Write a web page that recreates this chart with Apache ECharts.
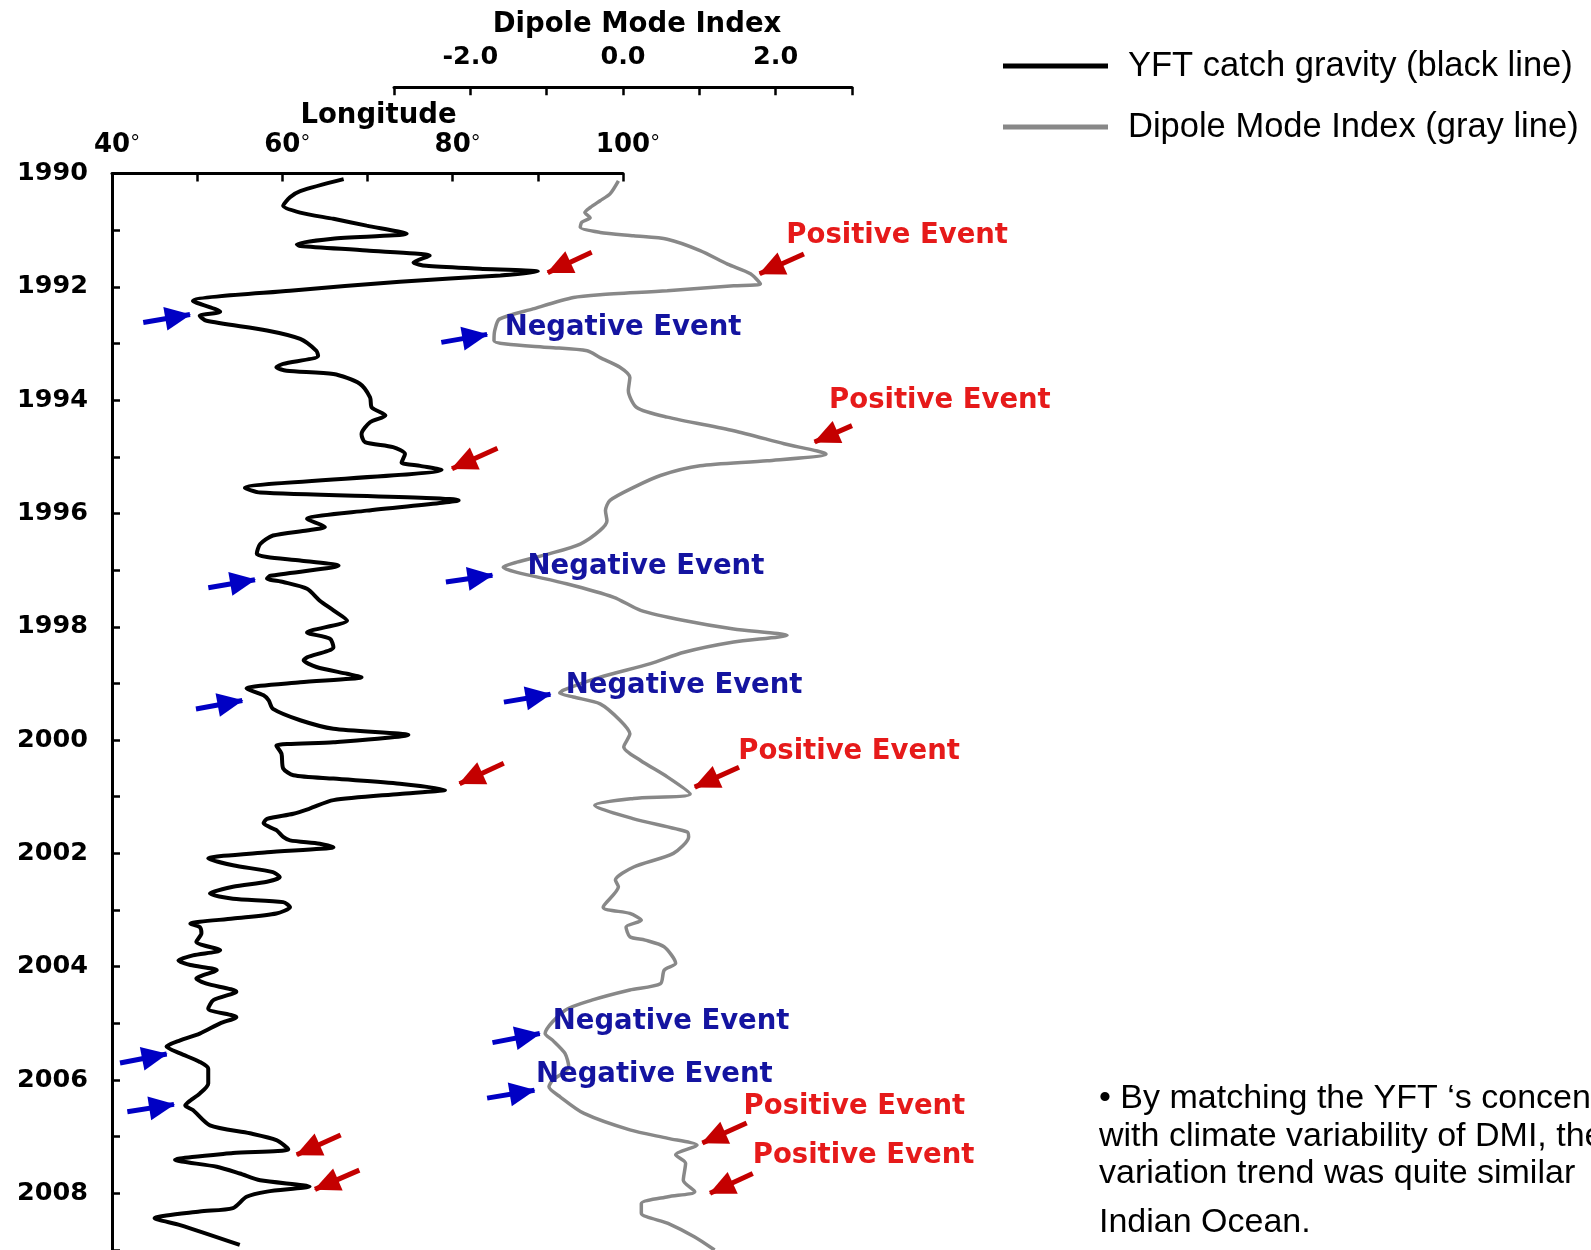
<!DOCTYPE html>
<html>
<head>
<meta charset="utf-8">
<script src="https://cdn.jsdelivr.net/npm/echarts@6/dist/echarts.min.js"></script>
<style>
html,body{margin:0;padding:0;background:#fff;}
#chart{width:1591px;height:1250px;}
</style>
</head>
<body>
<div id="chart"></div>
<script>
// ---------- data ----------
// YFT catch gravity (longitude of catch centre) against time
const yftYear = [1990.10,1990.31,1990.42,1990.57,1990.69,1990.80,1990.92,1991.06,1991.15,1991.25,
1991.28,1991.36,1991.45,1991.57,1991.63,1991.68,1991.73,1991.80,1991.91,1992.07,
1992.25,1992.44,1992.51,1992.60,1992.77,1992.92,1993.13,1993.22,1993.36,1993.42,
1993.48,1993.54,1993.71,1993.95,1994.13,1994.27,1994.39,1994.60,1994.74,1994.83,
1994.95,1995.10,1995.16,1995.23,1995.55,1995.63,1995.77,1995.95,1996.10,1996.24,
1996.30,1996.39,1996.54,1996.71,1996.77,1996.83,1996.92,1997.10,1997.15,1997.21,
1997.33,1997.54,1997.71,1997.89,1998.10,1998.21,1998.36,1998.54,1998.59,1998.71,
1998.83,1998.89,1998.98,1999.09,1999.21,1999.30,1999.45,1999.65,1999.80,1999.91,
2000.04,2000.10,2000.24,2000.50,2000.62,2000.68,2000.77,2000.88,2000.95,2001.06,
2001.21,2001.30,2001.39,2001.47,2001.59,2001.71,2001.77,2001.83,2001.89,2001.98,
2002.09,2002.21,2002.33,2002.42,2002.50,2002.59,2002.71,2002.80,2002.86,2002.95,
2003.06,2003.15,2003.24,2003.30,2003.41,2003.56,2003.71,2003.80,2003.89,2003.97,
2004.06,2004.21,2004.30,2004.44,2004.59,2004.74,2004.89,2005.00,2005.18,2005.30,
2005.41,2005.53,2005.68,2005.80,2006.06,2006.24,2006.36,2006.45,2006.53,2006.80,
2006.94,2007.06,2007.22,2007.29,2007.41,2007.53,2007.65,2007.77,2007.88,2007.97,
2008.06,2008.26,2008.32,2008.44,2008.56,2008.91];
const yftLon = [67.2,62.1,60.9,60.1,62.1,66.0,69.9,74.6,65.9,61.7,
62.1,69.9,77.3,75.4,76.9,83.2,90.0,85.6,73.8,60.9,
49.5,52.7,50.3,51.1,58.2,62.1,64.0,64.2,60.1,59.3,
60.5,66.0,69.1,70.3,70.5,72.1,70.3,69.3,69.7,73.0,
74.4,74.0,76.2,78.7,55.6,57.4,80.7,69.9,62.9,65.0,
62.9,58.9,57.4,57.0,58.2,62.1,66.6,58.6,58.2,60.1,
62.9,64.4,66.0,67.6,62.9,65.6,66.0,62.9,62.5,64.0,
67.6,69.3,62.1,55.8,57.8,58.4,58.9,62.1,66.0,74.8,
66.0,59.3,59.9,60.1,61.3,66.0,73.8,79.1,73.8,66.0,
63.2,61.3,58.2,57.8,59.3,60.1,60.9,64.4,66.0,58.2,
51.3,54.2,58.9,59.7,58.2,54.2,51.5,54.2,60.1,60.9,
59.3,54.2,49.2,50.3,50.5,49.9,52.7,49.5,47.8,49.2,
52.3,49.9,51.1,54.6,51.9,51.3,54.6,52.7,50.3,48.0,
46.4,48.0,50.3,51.3,51.3,50.3,49.2,48.6,49.5,51.5,
56.2,59.3,60.7,54.2,47.4,52.3,55.0,57.4,63.2,58.2,
55.8,54.2,50.3,45.0,48.0,55.0];

// Dipole Mode Index against time
const dmiYear = [1990.13,1990.36,1990.48,1990.60,1990.69,1990.78,1990.86,1990.95,1991.04,1991.10,
1991.16,1991.36,1991.60,1991.77,1991.95,1991.98,1992.07,1992.14,1992.19,1992.39,
1992.57,1992.77,1992.95,1993.01,1993.07,1993.13,1993.25,1993.42,1993.60,1993.83,
1994.13,1994.30,1994.54,1994.77,1994.95,1995.07,1995.16,1995.33,1995.54,1995.77,
1995.95,1996.13,1996.30,1996.54,1996.71,1996.86,1996.95,1997.04,1997.24,1997.48,
1997.71,1997.89,1998.04,1998.15,1998.27,1998.45,1998.65,1998.89,1999.12,1999.17,
1999.24,1999.36,1999.65,1999.89,2000.12,2000.36,2000.65,2000.95,2001.03,2001.15,
2001.39,2001.62,2001.71,2002.00,2002.24,2002.47,2002.59,2002.95,2003.06,2003.18,
2003.30,2003.47,2003.53,2003.65,2003.94,2004.06,2004.30,2004.41,2004.59,2004.77,
2005.18,2005.30,2005.53,2005.77,2006.00,2006.12,2006.30,2006.59,2006.88,2007.03,
2007.15,2007.32,2007.47,2007.77,2007.97,2008.06,2008.18,2008.35,2008.53,2008.77,
2009.00];
const dmiValue = [-0.06,-0.17,-0.30,-0.43,-0.50,-0.43,-0.54,-0.56,-0.30,0.14,
0.58,1.01,1.37,1.67,1.80,1.45,0.58,-0.30,-0.65,-1.18,
-1.62,-1.68,-1.69,-1.53,-0.96,-0.47,-0.30,-0.04,0.09,0.07,
0.18,0.58,1.45,2.11,2.66,1.89,1.01,0.49,0.14,-0.17,
-0.23,-0.21,-0.30,-0.56,-0.96,-1.39,-1.57,-1.39,-0.74,-0.12,
0.23,0.80,1.45,2.15,1.45,0.80,0.36,-0.30,-0.78,-0.83,
-0.65,-0.30,-0.04,0.09,0.01,0.23,0.58,0.88,0.14,-0.37,
0.14,0.84,0.86,0.66,0.14,-0.10,-0.06,-0.26,0.09,0.24,
0.04,0.09,0.29,0.54,0.69,0.54,0.49,0.09,-0.41,-0.76,
-1.02,-0.92,-0.76,-0.71,-0.92,-0.97,-0.82,-0.51,0.09,0.59,
0.97,0.69,0.82,0.79,0.94,0.59,0.24,0.24,0.59,0.94,
1.20];

// axis ticks / labels
const yearTicks = [1990, 2009, 1];      // min, max, step
const lonTicks = [40, 100, 10];
const dmiTicks = [-3, 3, 1];
const dmiLabelled = [-2, 0, 2];

// event arrows: [fromX, fromYear, toX, toYear, kind]  (x in axis units)
const yftArrows = [
  [96.32,1991.39,91.16,1991.75,'pos'],
  [43.67,1992.63,49.16,1992.49,'neg'],
  [85.26,1994.85,79.92,1995.21,'pos'],
  [51.31,1997.31,56.79,1997.17,'neg'],
  [49.86,1999.45,55.30,1999.30,'neg'],
  [86.00,2000.41,80.81,2000.77,'pos'],
  [40.94,2005.70,46.42,2005.54,'neg'],
  [41.80,2006.56,47.28,2006.43,'neg'],
  [66.85,2006.97,61.69,2007.32,'pos'],
  [69.04,2007.59,63.83,2007.93,'pos']
];
const dmiArrows = [
  [2.37,1991.42,1.79,1991.77,'pos'],
  [-2.38,1992.98,-1.78,1992.84,'neg'],
  [3.00,1994.45,2.51,1994.74,'pos'],
  [-2.32,1997.21,-1.71,1997.09,'neg'],
  [-1.56,1999.33,-0.95,1999.19,'neg'],
  [1.52,2000.48,0.94,2000.83,'pos'],
  [-1.71,2005.34,-1.09,2005.18,'neg'],
  [-1.78,2006.32,-1.16,2006.18,'neg'],
  [1.62,2006.76,1.04,2007.11,'pos'],
  [1.70,2007.65,1.14,2008.00,'pos']
];
// event labels: [dmi, year, text]
const eventLabels = [
  [2.14,1991.10,'Positive Event'],
  [-1.55,1992.73,'Negative Event'],
  [2.70,1994.01,'Positive Event'],
  [-1.25,1996.94,'Negative Event'],
  [-0.75,1999.05,'Negative Event'],
  [1.51,2000.21,'Positive Event'],
  [-0.92,2004.98,'Negative Event'],
  [-1.14,2005.90,'Negative Event'],
  [1.58,2006.48,'Positive Event'],
  [1.70,2007.34,'Positive Event']
];
const noteLines = [
  '• By matching the YFT ‘s concentration',
  'with climate variability of DMI, the',
  'variation trend was quite similar',
  'Indian Ocean.'
];
const seriesNames = ['YFT catch gravity (black line)', 'Dipole Mode Index (gray line)'];

// ---------- styles ----------
const BOLD_FONT = 'DejaVu Sans';
const ARROW_COLOR = {pos:'#c40000', neg:'#0000c4'};
const TEXT_COLOR = {pos:'#e61a1a', neg:'#1414a0'};
const LINE_BLACK = '#000000';
const LINE_GRAY = '#888888';

function zip(xs, ys){ return xs.map((x,i)=>[x, ys[i]]); }
function arrowData(list){
  return list.map(a => {
    const ls = {color: ARROW_COLOR[a[4]], width: 5, type:'solid'};
    return [
      {coord:[a[0],a[1]], lineStyle: ls},
      {coord:[a[2],a[3]], lineStyle: ls, symbol:'triangle', symbolSize:[24,26], symbolOffset:[0,12]}
    ];
  });
}
const arrowMarkLine = (list) => ({
  silent:true, animation:false,
  symbol:['none','triangle'],
  symbolSize:24,
  label:{show:false},
  emphasis:{disabled:true},
  data: arrowData(list)
});

const axisLineStyle = {show:true, onZero:false, lineStyle:{color:'#000', width:3}};
const tickStyle = {show:true, inside:true, length:8, lineStyle:{color:'#000', width:2.5}};

const chart = echarts.init(document.getElementById('chart'), null, {renderer:'canvas'});
const option = {
  animation:false,
  backgroundColor:'#ffffff',
  legend:{
    orient:'vertical', left:1003, top:46, padding:0,
    itemWidth:105, itemHeight:5, itemGap:21, icon:'rect',
    selectedMode:false,
    textStyle:{fontFamily:'Liberation Sans', fontSize:34.5, color:'#000', lineHeight:40, padding:[0,0,0,15]},
    data:[
      {name:seriesNames[0], itemStyle:{color:LINE_BLACK}},
      {name:seriesNames[1], itemStyle:{color:LINE_GRAY}}
    ]
  },
  grid:[
    {left:112, top:173.5, width:511, bottom:0, containLabel:false, outerBoundsMode:'none'},
    {left:394, top:173.5, width:458, bottom:0, containLabel:false, outerBoundsMode:'none'}
  ],
  xAxis:[
    {
      type:'value', gridIndex:0, position:'top',
      min:lonTicks[0], max:lonTicks[1], interval:lonTicks[2],
      name:'Longitude', nameLocation:'middle', nameGap:58, nameMoveOverlap:false,
      nameTextStyle:{fontFamily:BOLD_FONT, fontWeight:'bold', fontSize:27.5, color:'#000', verticalAlign:'middle', padding:[0,0,0,22]},
      axisLine:axisLineStyle, axisTick:tickStyle, splitLine:{show:false},
      axisLabel:{
        margin:15,
        formatter: v => (v % 20 === 0 ? '{p| }{n|' + v + '}{d|°}' : ''),
        rich:{
          n:{fontFamily:BOLD_FONT, fontWeight:'bold', fontSize:26, color:'#000'},
          d:{fontFamily:'Liberation Sans', fontSize:22, color:'#000', width:10, verticalAlign:'top'},
          p:{fontSize:13, width:10}
        }
      }
    },
    {
      type:'value', gridIndex:1, position:'top', offset:86.2,
      min:dmiTicks[0], max:dmiTicks[1], interval:dmiTicks[2],
      name:'Dipole Mode Index', nameLocation:'middle', nameGap:62, nameMoveOverlap:false,
      nameTextStyle:{fontFamily:BOLD_FONT, fontWeight:'bold', fontSize:27.5, color:'#000', verticalAlign:'middle', padding:[0,0,0,28]},
      axisLine:axisLineStyle, axisTick:tickStyle, splitLine:{show:false},
      axisLabel:{
        margin:17, fontFamily:BOLD_FONT, fontWeight:'bold', fontSize:25.5, color:'#000',
        formatter: v => (dmiLabelled.indexOf(v) >= 0 ? v.toFixed(1) : '')
      }
    }
  ],
  yAxis:[
    {
      type:'value', gridIndex:0, inverse:true, position:'left',
      min:yearTicks[0], max:yearTicks[1], interval:yearTicks[2],
      axisLine:axisLineStyle, axisTick:tickStyle, splitLine:{show:false},
      axisLabel:{
        margin:24, fontFamily:BOLD_FONT, fontWeight:'bold', fontSize:25.5, color:'#000',
        padding:[2,0,0,0],
        formatter: v => (v % 2 === 0 ? String(v) : '')
      }
    },
    {
      type:'value', gridIndex:1, inverse:true,
      min:yearTicks[0], max:yearTicks[1], interval:yearTicks[2], show:false
    }
  ],
  series:[
    {
      name:seriesNames[0], type:'line', xAxisIndex:0, yAxisIndex:0,
      data: zip(yftLon, yftYear),
      symbol:'none', showSymbol:false, smooth:0.25, clip:false,
      lineStyle:{color:LINE_BLACK, width:4}, itemStyle:{color:LINE_BLACK},
      emphasis:{disabled:true}, z:3,
      markLine: arrowMarkLine(yftArrows)
    },
    {
      name:seriesNames[1], type:'line', xAxisIndex:1, yAxisIndex:1,
      data: zip(dmiValue, dmiYear),
      symbol:'none', showSymbol:false, smooth:0.25, clip:false,
      lineStyle:{color:LINE_GRAY, width:3.5}, itemStyle:{color:LINE_GRAY},
      emphasis:{disabled:true}, z:2,
      markLine: arrowMarkLine(dmiArrows),
      markPoint:{
        silent:true, animation:false, symbol:'circle', symbolSize:0,
        itemStyle:{color:'transparent'},
        label:{show:true, position:'right', distance:0, formatter:'{b}',
               fontFamily:BOLD_FONT, fontWeight:'bold', fontSize:27.5},
        data: eventLabels.map(e => ({
          name:e[2], coord:[e[0], e[1]],
          label:{color: e[2].indexOf('Positive') === 0 ? TEXT_COLOR.pos : TEXT_COLOR.neg}
        }))
      }
    }
  ],
  graphic: noteLines.map((t, i) => ({
    type:'text', silent:true,
    x:1099, y:[1099, 1136.5, 1173.5, 1223][i],
    style:{text:t, font:'34px "Liberation Sans"', fill:'#000', align:'left', verticalAlign:'middle'}
  }))
};
chart.setOption(option);
</script>
</body>
</html>
